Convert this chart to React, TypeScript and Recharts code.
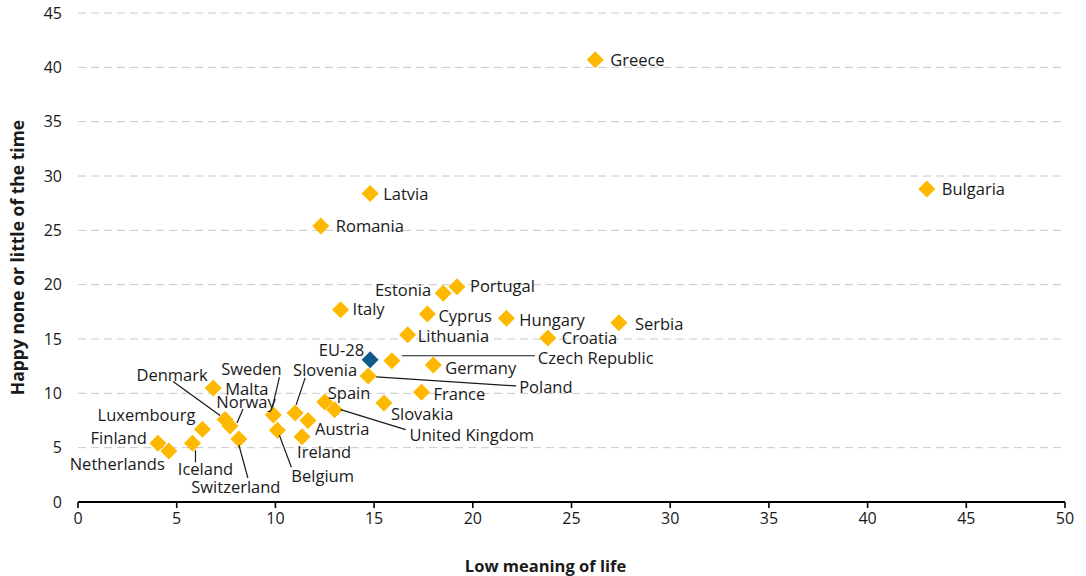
import React from "react";
import { ScatterChart, Scatter, XAxis, YAxis, CartesianGrid } from "recharts";

const countries = [
  "Greece", "Bulgaria", "Latvia", "Romania", "Portugal", "Estonia", "Italy", "Cyprus",
  "Hungary", "Serbia", "Lithuania", "Croatia", "Czech Republic", "Germany", "Poland",
  "France", "Slovakia", "Spain", "United Kingdom", "Slovenia", "Austria", "Ireland",
  "Sweden", "Belgium", "Malta", "Denmark", "Norway", "Switzerland", "Luxembourg",
  "Finland", "Netherlands", "Iceland",
];
const lowMeaning = [
  26.2, 43.0, 14.8, 12.3, 19.2, 18.5, 13.3, 17.7,
  21.7, 27.4, 16.7, 23.8, 15.9, 18.0, 14.7,
  17.4, 15.5, 12.5, 13.0, 11.0, 11.65, 11.35,
  9.9, 10.1, 6.85, 7.45, 7.7, 8.15, 6.3,
  4.05, 4.6, 5.8,
];
const happyLittle = [
  40.7, 28.8, 28.4, 25.4, 19.8, 19.2, 17.7, 17.3,
  16.9, 16.5, 15.4, 15.1, 13.0, 12.6, 11.6,
  10.1, 9.1, 9.2, 8.5, 8.2, 7.5, 6.0,
  8.0, 6.6, 10.5, 7.6, 7.0, 5.8, 6.7,
  5.4, 4.7, 5.4,
];
const euName = "EU-28";
const euLowMeaning = 14.8;
const euHappyLittle = 13.1;

const xTicks = [0, 5, 10, 15, 20, 25, 30, 35, 40, 45, 50];
const yTicks = [0, 5, 10, 15, 20, 25, 30, 35, 40, 45];
const xTitle = "Low meaning of life";
const yTitle = "Happy none or little of the time";

const countryData = countries.map((name, i) => ({ name, x: lowMeaning[i], y: happyLittle[i] }));
const euData = [{ name: euName, x: euLowMeaning, y: euHappyLittle }];
const allData = [...countryData, ...euData];

type Layout = { dx: number; dy: number; anchor: "start" | "middle" | "end"; line?: number[] };
const labelLayout: Record<string, Layout> = {
  Greece: { dx: 15, dy: 0, anchor: "start" },
  Bulgaria: { dx: 15, dy: -1, anchor: "start" },
  Latvia: { dx: 13, dy: 0, anchor: "start" },
  Romania: { dx: 15, dy: 0, anchor: "start" },
  Portugal: { dx: 13, dy: -1, anchor: "start" },
  Estonia: { dx: -12, dy: -4, anchor: "end" },
  Italy: { dx: 12, dy: -1, anchor: "start" },
  Cyprus: { dx: 11, dy: 1, anchor: "start" },
  Hungary: { dx: 13, dy: 1, anchor: "start" },
  Serbia: { dx: 16, dy: 1, anchor: "start" },
  Lithuania: { dx: 10, dy: 1, anchor: "start" },
  Croatia: { dx: 14, dy: 0, anchor: "start" },
  "Czech Republic": { dx: 146, dy: -3, anchor: "start", line: [10, -5, 143, -5] },
  Germany: { dx: 12, dy: 2, anchor: "start" },
  Poland: { dx: 151, dy: 11, anchor: "start", line: [8, 1, 148, 10] },
  France: { dx: 12, dy: 1, anchor: "start" },
  Slovakia: { dx: 7, dy: 10, anchor: "start" },
  Spain: { dx: 3, dy: -10, anchor: "start" },
  "United Kingdom": { dx: 75, dy: 25, anchor: "start", line: [6, 0, 71, 20] },
  Slovenia: { dx: 30, dy: -43, anchor: "middle", line: [1, -8, 10, -35] },
  Austria: { dx: 7, dy: 8, anchor: "start" },
  Ireland: { dx: -5, dy: 15, anchor: "start" },
  Sweden: { dx: -22, dy: -47, anchor: "middle", line: [-1, -8, 6, -38] },
  Belgium: { dx: 14, dy: 45, anchor: "start", line: [2, 5, 14, 37] },
  Malta: { dx: 12, dy: 1, anchor: "start" },
  Denmark: { dx: -53, dy: -45, anchor: "middle", line: [-52, -38, -5, -4] },
  Norway: { dx: 16, dy: -24, anchor: "middle", line: [13, -17, 7, -3] },
  Switzerland: { dx: -3, dy: 48, anchor: "middle", line: [0, 6, 9, 39] },
  Luxembourg: { dx: -7, dy: -15, anchor: "end" },
  Finland: { dx: -11, dy: -6, anchor: "end" },
  Netherlands: { dx: -4, dy: 13, anchor: "end" },
  Iceland: { dx: 13, dy: 25, anchor: "middle", line: [3, 7, 3, 19] },
  "EU-28": { dx: -6, dy: -10, anchor: "end" },
};

const YELLOW = "#FFB800";
const BLUE = "#0E5A8A";
const R = 8.5;
const LABEL_SIZE = 16.5;

const diamond = (fill: string) => (props: any) => {
  const { cx, cy } = props;
  if (cx == null || cy == null) return <g />;
  return (
    <polygon
      points={`${cx},${cy - R} ${cx + R},${cy} ${cx},${cy + R} ${cx - R},${cy}`}
      fill={fill}
    />
  );
};

const labelShape = (props: any) => {
  const { cx, cy, payload } = props;
  if (cx == null || cy == null) return <g />;
  const l = labelLayout[payload.name];
  if (!l) return <g />;
  return (
    <g>
      {l.line && (
        <line
          x1={cx + l.line[0]}
          y1={cy + l.line[1]}
          x2={cx + l.line[2]}
          y2={cy + l.line[3]}
          stroke="#1a1a1a"
          strokeWidth={1.2}
        />
      )}
      <text
        x={cx + l.dx}
        y={cy + l.dy}
        textAnchor={l.anchor}
        dominantBaseline="central"
        fontSize={LABEL_SIZE}
        fill="#1a1a1a"
      >
        {payload.name}
      </text>
    </g>
  );
};

export default function App() {
  return (
    <div style={{ position: "absolute", left: 0, top: 0, fontFamily: "'Open Sans', sans-serif" }}>
      <ScatterChart width={1086} height={576} margin={{ top: 13, right: 21, bottom: 0, left: 0 }}>
        <CartesianGrid vertical={false} stroke="#c8c8c8" strokeDasharray="8 5" />
        <XAxis
          type="number"
          dataKey="x"
          domain={[0, 50]}
          ticks={xTicks}
          interval={0}
          height={74}
          axisLine={{ stroke: "#000", strokeWidth: 2 }}
          tickLine={{ stroke: "#000", strokeWidth: 1.6 }}
          tickSize={6}
          tickMargin={5}
          tick={{ fill: "#1a1a1a", fontSize: 16 }}
          label={{ value: xTitle, position: "insideBottom", offset: 4, dx: -26, fill: "#1a1a1a", fontSize: 16.5, fontWeight: 700 }}
        />
        <YAxis
          type="number"
          dataKey="y"
          domain={[0, 45]}
          ticks={yTicks}
          interval={0}
          width={78}
          axisLine={false}
          tickLine={false}
          tickMargin={10}
          tick={{ fill: "#1a1a1a", fontSize: 16 }}
          label={{
            value: yTitle,
            angle: -90,
            position: "insideLeft",
            offset: 18,
            fill: "#1a1a1a",
            fontSize: 17.5,
            fontWeight: 700,
            style: { textAnchor: "middle" },
          }}
        />
        <Scatter data={countryData} shape={diamond(YELLOW)} isAnimationActive={false} />
        <Scatter data={euData} shape={diamond(BLUE)} isAnimationActive={false} />
        <Scatter data={allData} shape={labelShape} isAnimationActive={false} />
      </ScatterChart>
    </div>
  );
}
